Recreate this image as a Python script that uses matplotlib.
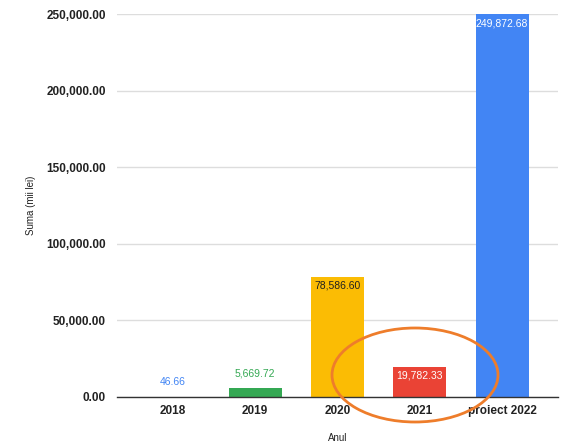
import matplotlib
matplotlib.use('Agg')
import matplotlib.pyplot as plt
from matplotlib import patches
from matplotlib.ticker import FuncFormatter

plt.rcParams['font.family'] = ['Liberation Sans', 'DejaVu Sans']

years = ['2018', '2019', '2020', '2021', 'proiect 2022']
sums = [46.66, 5669.72, 78586.60, 19782.33, 249872.68]
bar_colors = ['#4285F4', '#34A853', '#FBBC04', '#EA4335', '#4285F4']
label_colors = ['#4285F4', '#34A853', '#202020', '#FFFFFF', '#FFFFFF']
label_inside = [False, False, True, True, True]
y_ticks = [0, 50000, 100000, 150000, 200000, 250000]

fig = plt.figure(figsize=(5.7, 4.43), dpi=100)
ax = fig.add_axes([0.205, 0.104, 0.774, 0.864])

x = range(len(years))
bars = ax.bar(x, sums, width=0.645, color=bar_colors, zorder=2)

for i, (b, v) in enumerate(zip(bars, sums)):
    txt = '{:,.2f}'.format(v)
    if label_inside[i]:
        ax.text(b.get_x() + b.get_width() / 2, v - 2500, txt, ha='center', va='top',
                fontsize=7.5, color=label_colors[i], zorder=3)
    else:
        ax.text(b.get_x() + b.get_width() / 2, v + 6500, txt, ha='center', va='bottom',
                fontsize=7.5, color=label_colors[i], zorder=3)

ax.set_xlim(-0.68, 4.68)
ax.set_ylim(0, 250000)
ax.set_yticks(y_ticks)
ax.yaxis.set_major_formatter(FuncFormatter(lambda v, p: '{:,.2f}'.format(v)))
ax.set_xticks(list(x))
ax.set_xticklabels(years)
for lbl in ax.get_xticklabels() + ax.get_yticklabels():
    lbl.set_fontweight('bold')
    lbl.set_fontsize(8.5)
    lbl.set_color('#222222')
ax.tick_params(axis='both', length=0)
ax.tick_params(axis='y', pad=8)
ax.tick_params(axis='x', pad=6)

ax.grid(axis='y', color='#DDDDDD', linewidth=1, zorder=0)
for s in ['top', 'right', 'left']:
    ax.spines[s].set_visible(False)
ax.spines['bottom'].set_color('#333333')
ax.spines['bottom'].set_linewidth(1)
ax.spines['bottom'].set_zorder(3)

ax.set_ylabel('Suma (mii lei)', fontsize=7, color='#222222', labelpad=7)
ax.set_xlabel('Anul', fontsize=7, color='#222222', labelpad=11)

# orange annotation ring around 2021
ring = patches.Ellipse((415 / 570, 1 - 375 / 443), 166 / 570, 94 / 443,
                       transform=fig.transFigure, fill=False, edgecolor='#EE7D2B',
                       linewidth=2, zorder=5)
fig.patches.append(ring)

fig.savefig('out.png', dpi=100)
